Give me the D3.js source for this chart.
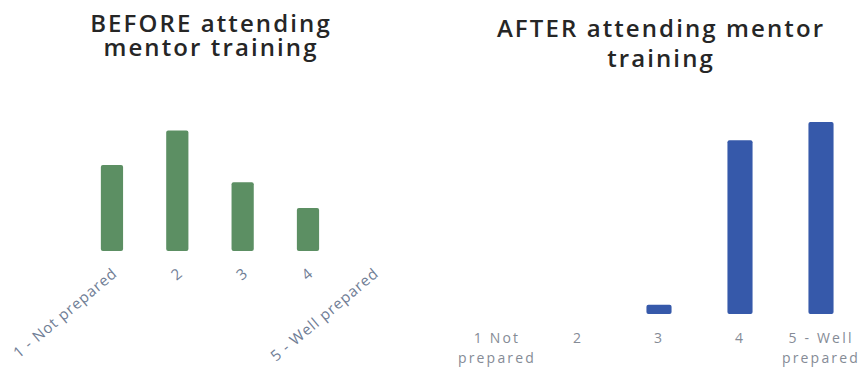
<!DOCTYPE html>
<html>
<head>
<meta charset="utf-8">
<script src="https://cdn.jsdelivr.net/npm/d3@7"></script>
<style>
  html, body { margin: 0; padding: 0; background: #ffffff; }
  svg { display: block; }
</style>
</head>
<body>
<svg id="chart" width="861" height="368"></svg>
<script>
// Preparedness ratings, 1 (not prepared) to 5 (well prepared)
const categories = ["1 - Not prepared", "2", "3", "4", "5 - Well prepared"];
const beforeCounts = [10, 14, 8, 5, 0];
const afterCounts = [0, 0, 1, 19, 21];
const beforeTitle = ["BEFORE attending", "mentor training"];
const afterTitle = ["AFTER attending mentor", "training"];

const svg = d3.select("#chart");
const baseFont = "'Open Sans', 'DejaVu Sans', sans-serif";

// Two-line panel title drawn as one text element with tspans
function drawTitle(lines, cx, firstBaseline, lineStep) {
  svg.append("text")
    .attr("text-anchor", "middle")
    .attr("font-family", baseFont)
    .attr("font-weight", 600)
    .attr("font-size", 24)
    .attr("letter-spacing", 2.1)
    .attr("fill", "#262626")
    .selectAll("tspan")
    .data(lines)
    .join("tspan")
    .attr("x", cx)
    .attr("y", (d, i) => firstBaseline + i * lineStep)
    .text(d => d);
}

// ---- Left panel: before training ----
const xL = d3.scaleBand().domain(categories).range([79.3, 406])
  .paddingInner(0.66).paddingOuter(0.33);
const yL = d3.scaleLinear().domain([0, 14]).range([251, 130.5]);

drawTitle(beforeTitle, 211, 32, 24);

svg.append("g").selectAll("rect")
  .data(categories.map((c, i) => ({ c, v: beforeCounts[i] })).filter(d => d.v > 0))
  .join("rect")
  .attr("x", d => xL(d.c))
  .attr("y", d => yL(d.v))
  .attr("width", xL.bandwidth())
  .attr("height", d => yL(0) - yL(d.v))
  .attr("rx", 2)
  .attr("fill", "#5c8f63");

const axL = svg.append("g")
  .attr("transform", `translate(0,${yL(0)})`)
  .call(d3.axisBottom(xL).tickSize(0).tickPadding(0));
axL.select(".domain").remove();
axL.selectAll(".tick text")
  .attr("font-family", baseFont)
  .attr("font-size", 15)
  .attr("letter-spacing", 0.9)
  .attr("fill", "#6f7d95")
  .attr("text-anchor", "end")
  .attr("transform", "translate(3,20) rotate(-40)")
  .attr("dy", "0.35em")
  .attr("y", 0)
  .attr("x", 0);

// ---- Right panel: after training ----
const xR = d3.scaleBand().domain(categories).range([456.5, 861.5])
  .paddingInner(0.69).paddingOuter(0.345);
const yR = d3.scaleLinear().domain([0, 21]).range([314, 122]);

drawTitle(afterTitle, 661, 37, 30);

svg.append("g").selectAll("rect")
  .data(categories.map((c, i) => ({ c, v: afterCounts[i] })).filter(d => d.v > 0))
  .join("rect")
  .attr("x", d => xR(d.c))
  .attr("y", d => yR(d.v))
  .attr("width", xR.bandwidth())
  .attr("height", d => yR(0) - yR(d.v))
  .attr("rx", 2)
  .attr("fill", "#3659aa");

const axR = svg.append("g")
  .attr("transform", `translate(0,${yR(0)})`)
  .call(d3.axisBottom(xR).tickSize(0).tickPadding(0).tickFormat(() => ""));
axR.select(".domain").remove();

// Wrapped two-line category labels under the right panel
const wrapLines = c => {
  if (c.indexOf("Not") >= 0) return ["1  Not", "prepared"];
  if (c.indexOf("Well") >= 0) return ["5 - Well", "prepared"];
  return [c];
};
axR.selectAll(".tick").each(function (c) {
  const t = d3.select(this).select("text")
    .attr("y", 0).attr("dy", null)
    .attr("font-family", baseFont)
    .attr("font-size", 14)
    .attr("letter-spacing", 2.2)
    .attr("fill", "#858b96")
    .attr("text-anchor", "middle");
  t.selectAll("tspan")
    .data(wrapLines(c))
    .join("tspan")
    .attr("x", 0)
    .attr("y", (d, i) => 29 + i * 20)
    .text(d => d);
});
</script>
</body>
</html>
